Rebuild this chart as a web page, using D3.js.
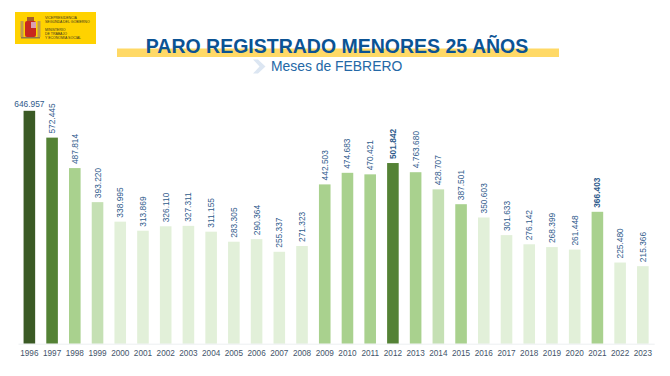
<!DOCTYPE html>
<html lang="es">

<head>
    <meta charset="UTF-8" />
    <title>Paro registrado menores 25 años</title>
    <script src="https://d3js.org/d3.v7.min.js"></script>
    <style>
        html, body { margin: 0; padding: 0; background: #fff; }
        svg { display: block; font-family: "Liberation Sans", Arial, sans-serif; }
        .axis path { stroke: #eceff1; }
        .axis text { font-size: 8.2px; fill: #44546a; }
        .value { font-size: 8.4px; fill: #2f5b8c; }
    </style>
</head>

<body>
    <script>
        const years = ['1996', '1997', '1998', '1999', '2000', '2001', '2002', '2003', '2004', '2005',
            '2006', '2007', '2008', '2009', '2010', '2011', '2012', '2013', '2014', '2015',
            '2016', '2017', '2018', '2019', '2020', '2021', '2022', '2023'];
        const values = [646957, 572445, 487814, 393220, 338995, 313869, 326110, 327311, 311155, 283305,
            290364, 255337, 271323, 442503, 474683, 470421, 501842, 476368, 428707, 387501,
            350603, 301633, 276142, 268399, 261448, 366403, 225480, 215366];
        // printed as in the source slide, 2013 included
        const valueLabels = ['646.957', '572.445', '487.814', '393.220', '338.995', '313.869', '326.110', '327.311', '311.155', '283.305',
            '290.364', '255.337', '271.323', '442.503', '474.683', '470.421', '501.842', '4.763.680', '428.707', '387.501',
            '350.603', '301.633', '276.142', '268.399', '261.448', '366.403', '225.480', '215.366'];
        // shade group of each bar, 0 = darkest
        const shades = [0, 1, 2, 3, 4, 4, 4, 4, 4, 4,
            4, 4, 4, 2, 2, 2, 1, 2, 3, 2,
            4, 4, 4, 4, 4, 2, 4, 4];
        const boldYears = ['2012', '2021'];
        const shadeColors = ['#3b5a25', '#548235', '#a9d18e', '#c5e0b4', '#e2f0d9'];

        const w = 670, h = 376;
        const baseline = 343.7;

        const svg = d3.select('body').append('svg')
            .attr('width', w)
            .attr('height', h);

        // logo
        const logo = svg.append('g').attr('transform', 'translate(15,12)');
        logo.append('rect').attr('width', 81).attr('height', 32).attr('fill', '#ffd200');
        logo.append('rect').attr('x', 5.5).attr('y', 9).attr('width', 3).attr('height', 16).attr('fill', '#c09a50');
        logo.append('rect').attr('x', 22.5).attr('y', 9).attr('width', 3).attr('height', 16).attr('fill', '#c09a50');
        logo.append('rect').attr('x', 10).attr('y', 9).attr('width', 11).attr('height', 16).attr('rx', 2).attr('fill', '#c8281e');
        logo.append('rect').attr('x', 16).attr('y', 10).attr('width', 5).attr('height', 6).attr('fill', '#d9a0b0');
        logo.append('rect').attr('x', 12).attr('y', 5).attr('width', 7).attr('height', 4).attr('fill', '#a8602a');
        logo.append('rect').attr('x', 6).attr('y', 25).attr('width', 19).attr('height', 1.5).attr('fill', '#8d7a4a');
        const logoLines = [['VICEPRESIDENCIA', 7.2], ['SEGUNDA DEL GOBIERNO', 11.4], ['MINISTERIO', 19.4], ['DE TRABAJO', 23], ['Y ECONOMÍA SOCIAL', 26.8]];
        logo.selectAll('text.logo')
            .data(logoLines)
            .enter().append('text')
            .attr('class', 'logo')
            .attr('x', 30)
            .attr('y', d => d[1])
            .attr('font-size', 3.5)
            .attr('fill', '#3a3320')
            .text(d => d[0]);

        // title
        svg.append('rect')
            .attr('x', 117).attr('y', 48.5)
            .attr('width', 442).attr('height', 8.5)
            .attr('fill', '#ffd966');
        svg.append('text')
            .attr('x', 337).attr('y', 53)
            .attr('text-anchor', 'middle')
            .attr('font-size', 19.5)
            .attr('font-weight', 'bold')
            .attr('fill', '#0b5394')
            .text('PARO REGISTRADO MENORES 25 AÑOS');

        // subtitle with chevron
        svg.append('path')
            .attr('d', 'M253,59.5 L258,59.5 L265.5,66.5 L258,73.5 L253,73.5 L259.5,66.5 Z')
            .attr('fill', '#dce6f2');
        svg.append('text')
            .attr('x', 271).attr('y', 71)
            .attr('font-size', 13.9)
            .attr('fill', '#2468a6')
            .text('Meses de FEBRERO');

        // chart
        const x = d3.scaleBand()
            .domain(years)
            .range([18, 654.2])
            .paddingInner(0.49)
            .paddingOuter(0.245);

        const y = d3.scaleLinear()
            .domain([0, 700000])
            .range([baseline, baseline - 252]);

        const color = d3.scaleOrdinal()
            .domain([0, 1, 2, 3, 4])
            .range(shadeColors);

        svg.selectAll('rect.bar')
            .data(years)
            .enter().append('rect')
            .attr('class', 'bar')
            .attr('x', d => x(d))
            .attr('y', (d, i) => y(values[i]))
            .attr('width', x.bandwidth())
            .attr('height', (d, i) => y(0) - y(values[i]))
            .attr('fill', (d, i) => color(shades[i]));

        svg.append('g')
            .attr('class', 'axis')
            .attr('transform', `translate(0,${baseline})`)
            .call(d3.axisBottom(x).tickSize(0).tickPadding(10))
            .selectAll('text')
            .attr('dy', '0.32em');

        // value labels, only the first one is horizontal
        svg.selectAll('text.value')
            .data(years)
            .enter().append('text')
            .attr('class', 'value')
            .attr('font-weight', d => boldYears.includes(d) ? 'bold' : 'normal')
            .attr('transform', (d, i) => {
                const cx = x(d) + x.bandwidth() / 2;
                return i === 0
                    ? `translate(${cx},${y(values[i]) - 4})`
                    : `translate(${cx + 3},${y(values[i]) - 4}) rotate(-90)`;
            })
            .attr('text-anchor', (d, i) => i === 0 ? 'middle' : 'start')
            .text((d, i) => valueLabels[i]);
    </script>
</body>

</html>
